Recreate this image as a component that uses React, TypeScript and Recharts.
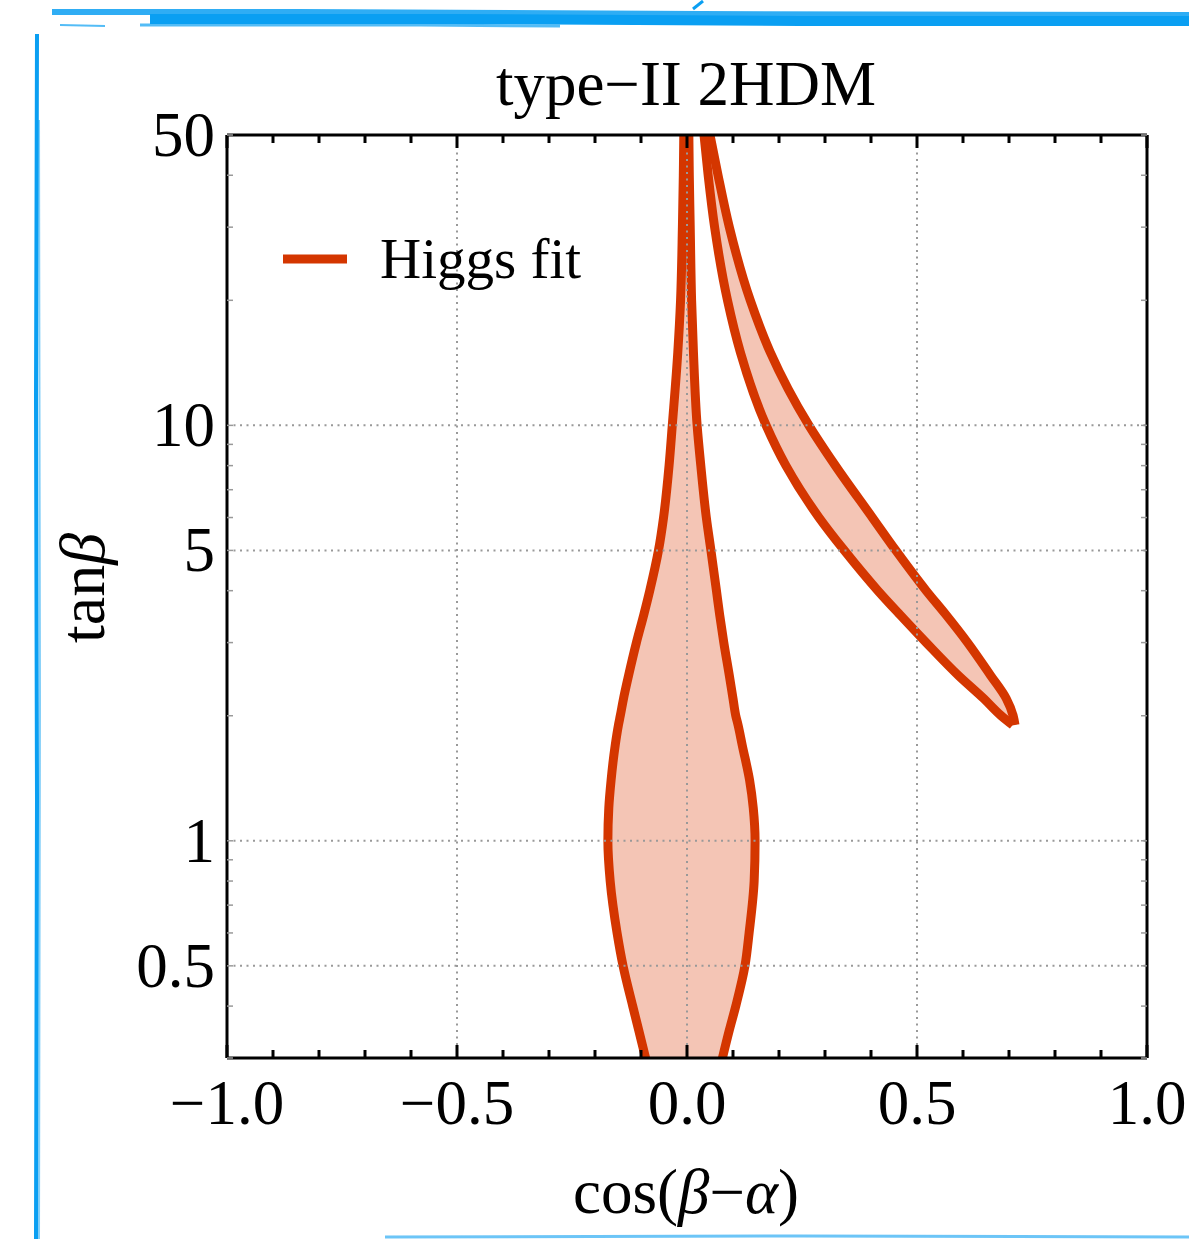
import React from "react";
import { ComposedChart, Area, XAxis, YAxis, ReferenceLine } from "recharts";

// tan(beta) samples, top to bottom
const tanBeta = [50, 40, 30, 20, 15, 10, 8, 6, 5, 4, 3.5, 3, 2.5, 2.2, 2, 1.9, 1.7, 1.4, 1.2, 1, 0.8, 0.6, 0.5, 0.4, 0.35, 0.3];

// cos(beta-alpha) [lower, upper] of the band around alignment
const alignedBand: [number, number][] = [
    [-0.007, 0.004], [-0.008, 0.005], [-0.01, 0.007], [-0.014, 0.01], [-0.02, 0.014],
    [-0.032, 0.022], [-0.039, 0.03], [-0.051, 0.042], [-0.062, 0.052], [-0.081, 0.064],
    [-0.094, 0.071], [-0.11, 0.08], [-0.127, 0.092], [-0.138, 0.1], [-0.145, 0.106],
    [-0.149, 0.111], [-0.156, 0.12], [-0.165, 0.136], [-0.17, 0.144], [-0.172, 0.148],
    [-0.167, 0.146], [-0.152, 0.135], [-0.139, 0.126], [-0.118, 0.106], [-0.105, 0.092],
    [-0.09, 0.077],
];

// wrong-sign Yukawa branch, ends near tanβ ≈ 1.9
const wrongSignT = [50, 40, 30, 20, 15, 10, 8, 6, 5, 4, 3.5, 3, 2.5, 2.2, 2, 1.9];
const wrongSignBand: [number, number][] = [
    [0.037, 0.05], [0.046, 0.0675], [0.06, 0.092], [0.088, 0.1375], [0.116, 0.181],
    [0.172, 0.265], [0.215, 0.3225], [0.287, 0.403], [0.342, 0.454], [0.415, 0.52],
    [0.463, 0.563], [0.52, 0.61], [0.59, 0.66], [0.645, 0.694], [0.683, 0.709],
    [0.708, 0.713],
];

const xTicks = [-1, -0.9, -0.8, -0.7, -0.6, -0.5, -0.4, -0.3, -0.2, -0.1, 0, 0.1, 0.2, 0.3, 0.4, 0.5, 0.6, 0.7, 0.8, 0.9, 1];
const xGrid = [-0.5, 0, 0.5];
const yTicks = [0.3, 0.4, 0.5, 0.6, 0.7, 0.8, 0.9, 1, 2, 3, 4, 5, 6, 7, 8, 9, 10, 20, 30, 40, 50];
const yLabels = [0.5, 1, 5, 10, 50];
const yGrid = [0.5, 1, 5, 10];

const alignedRows = tanBeta.map((t, i) => ({ t, band: alignedBand[i] }));
const wrongSignRows = wrongSignT.map((t, i) => ({ t, band: wrongSignBand[i] }));

const FONT = "'Liberation Serif', 'DejaVu Serif', serif";
const RED = "#D43600";

const isMajorX = (v: number) => Math.abs(v * 2 - Math.round(v * 2)) < 1e-6;
const fmtX = (v: number) => (v < 0 ? "\u2212" : "") + Math.abs(v).toFixed(1);

function BottomTick(props: any) {
    const { x, y, payload } = props;
    const major = isMajorX(payload.value);
    return (
        <g>
            <line x1={x} x2={x} y1={y} y2={y - (major ? 13 : 8)} stroke="#000" strokeWidth={3} />
            {major && (
                <text x={x} y={y + 66} textAnchor="middle" fontSize={63} fontFamily={FONT} fill="#000">
                    {fmtX(payload.value)}
                </text>
            )}
        </g>
    );
}

function TopTick(props: any) {
    const { x, y, payload } = props;
    const major = isMajorX(payload.value);
    return <line x1={x} x2={x} y1={y} y2={y + (major ? 13 : 8)} stroke="#000" strokeWidth={3} />;
}

function LeftTick(props: any) {
    const { x, y, payload } = props;
    const labelled = yLabels.includes(payload.value);
    return (
        <g>
            <line x1={x} x2={x + 6} y1={y} y2={y} stroke="#999" strokeWidth={1.5} />
            {labelled && (
                <text x={x - 12} y={y + 21} textAnchor="end" fontSize={63} fontFamily={FONT} fill="#000">
                    {payload.value}
                </text>
            )}
        </g>
    );
}

function RightTick(props: any) {
    const { x, y } = props;
    return <line x1={x} x2={x - 6} y1={y} y2={y} stroke="#999" strokeWidth={1.5} />;
}

function Frame() {
    const blue = "#0A9FF2";
    return (
        <svg width={1189} height={1239} style={{ position: "absolute", left: 0, top: 0, pointerEvents: "none" }}>
            <path d="M52 12 L300 12 L700 14 L1189 15" stroke={blue} strokeWidth={6} fill="none" opacity={0.85} />
            <path d="M150 19 L450 19 L800 21 L1189 21" stroke={blue} strokeWidth={10} fill="none" />
            <path d="M140 25 L420 25 L560 26" stroke={blue} strokeWidth={3} fill="none" opacity={0.7} />
            <path d="M60 25 L105 26" stroke={blue} strokeWidth={2} fill="none" opacity={0.7} />
            <path d="M693 9 L703 1" stroke={blue} strokeWidth={3} fill="none" />
            <path d="M37 34 L36 400 L37 800 L36 1239" stroke={blue} strokeWidth={4} fill="none" />
            <path d="M39 120 L40 700 L39 1239" stroke={blue} strokeWidth={2} fill="none" opacity={0.5} />
            <path d="M385 1237 L800 1236 L1189 1237" stroke={blue} strokeWidth={3} fill="none" opacity={0.6} />

            <text x={686} y={105} textAnchor="middle" fontSize={63} fontFamily={FONT} fill="#000">
                type{"\u2212"}II 2HDM
            </text>
            <text x={686} y={1213} textAnchor="middle" fontSize={63} fontFamily={FONT} fill="#000">
                cos(<tspan fontStyle="italic">β</tspan>{"\u2212"}<tspan fontStyle="italic">α</tspan>)
            </text>
            <text transform="translate(104 588) rotate(-90)" textAnchor="middle" fontSize={64} fontFamily={FONT} fill="#000">
                tan<tspan fontStyle="italic">β</tspan>
            </text>

            <line x1={283} x2={347} y1={259} y2={259} stroke={RED} strokeWidth={9} />
            <text x={380} y={278} fontSize={57} fontFamily={FONT} fill="#000">Higgs fit</text>
        </svg>
    );
}

const axisLine = { stroke: "#000", strokeWidth: 3 };

export default function App() {
    return (
        <div style={{ position: "absolute", left: 0, top: 0, width: 1189, height: 1239, background: "#fff" }}>
            <ComposedChart
                width={1189}
                height={1239}
                layout="vertical"
                data={alignedRows}
                margin={{ top: 134, right: 41, bottom: 180, left: 226 }}
            >
                <XAxis
                    type="number"
                    domain={[-1, 1]}
                    ticks={xTicks}
                    interval={0}
                    height={1}
                    tickSize={0}
                    tickMargin={0}
                    tickLine={false}
                    allowDataOverflow
                    axisLine={axisLine}
                    tick={(p: any) => <BottomTick {...p} />}
                />
                <XAxis
                    xAxisId="top"
                    orientation="top"
                    type="number"
                    domain={[-1, 1]}
                    ticks={xTicks}
                    interval={0}
                    height={1}
                    tickSize={0}
                    tickMargin={0}
                    tickLine={false}
                    allowDataOverflow
                    axisLine={axisLine}
                    tick={(p: any) => <TopTick {...p} />}
                />
                <YAxis
                    type="number"
                    dataKey="t"
                    scale="log"
                    domain={[0.3, 50]}
                    reversed
                    ticks={yTicks}
                    interval={0}
                    width={1}
                    tickSize={0}
                    tickMargin={0}
                    tickLine={false}
                    allowDataOverflow
                    axisLine={axisLine}
                    tick={(p: any) => <LeftTick {...p} />}
                />
                <YAxis
                    yAxisId="right"
                    orientation="right"
                    type="number"
                    dataKey="t"
                    scale="log"
                    domain={[0.3, 50]}
                    reversed
                    ticks={yTicks}
                    interval={0}
                    width={1}
                    tickSize={0}
                    tickMargin={0}
                    tickLine={false}
                    allowDataOverflow
                    axisLine={axisLine}
                    tick={(p: any) => <RightTick {...p} />}
                />
                {xGrid.map((v) => (
                    <ReferenceLine key={`gx${v}`} x={v} stroke="#999" strokeWidth={2} strokeDasharray="2 4.5" />
                ))}
                {yGrid.map((v) => (
                    <ReferenceLine key={`gy${v}`} y={v} stroke="#999" strokeWidth={2} strokeDasharray="2 4.5" />
                ))}
                <Area
                    data={alignedRows}
                    dataKey="band"
                    type="monotone"
                    stroke={RED}
                    strokeWidth={9}
                    strokeLinejoin="round"
                    fill="#E0582A"
                    fillOpacity={0.35}
                    dot={false}
                    activeDot={false}
                    isAnimationActive={false}
                />
                <Area
                    data={wrongSignRows}
                    dataKey="band"
                    type="monotone"
                    stroke={RED}
                    strokeWidth={9}
                    strokeLinejoin="round"
                    fill="#E0582A"
                    fillOpacity={0.35}
                    dot={false}
                    activeDot={false}
                    isAnimationActive={false}
                />
            </ComposedChart>
            <Frame />
        </div>
    );
}
